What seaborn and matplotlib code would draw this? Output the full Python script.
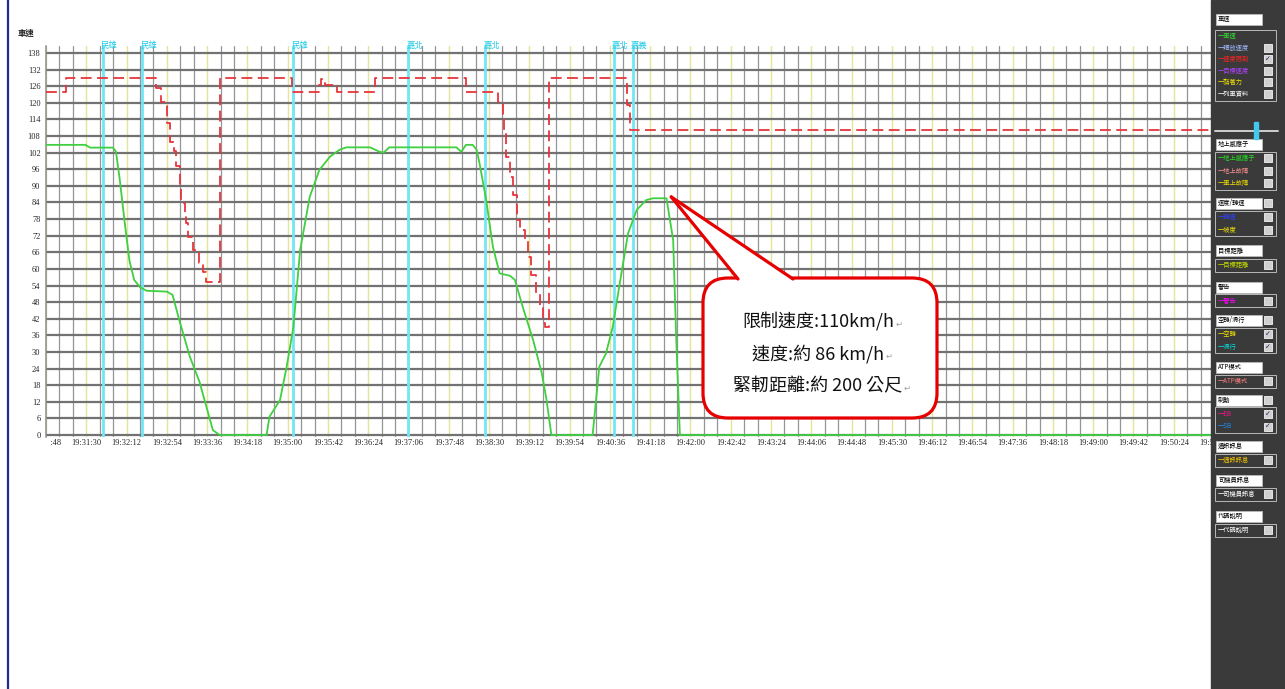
import numpy as np
import pandas as pd
import matplotlib
matplotlib.use("Agg")
import matplotlib.pyplot as plt
import matplotlib.transforms as mtransforms
from matplotlib.patches import Rectangle, FancyBboxPatch, Polygon
from matplotlib.lines import Line2D
from matplotlib.text import Annotation
import seaborn as sns

sns.set_theme(style="white")
plt.rcParams['font.family'] = ['Noto Sans CJK TC', 'DejaVu Sans']

# time axis: seconds after 19:30:00
speed_t = [48, 89, 94, 118, 121, 125, 130, 135, 140, 146, 153, 174, 180, 187, 198, 208,
           222, 229, 278, 281, 292, 299, 306, 313, 323, 333, 344, 354, 361, 386, 396, 400,
           406, 476, 481, 486, 493, 497, 500, 507, 514, 521, 532, 537, 545, 556, 565, 570,
           575, 618, 625, 632, 639, 648, 655, 664, 674, 681, 695, 702, 705, 709, 1340]
speed_v = [104.8, 104.8, 103.8, 103.8, 102.3, 92, 77, 63, 56, 53.4, 52.1, 51.8, 50.6, 41.5, 28.3, 19.3,
           1.8, 0, 0, 6.6, 12.6, 24.7, 39.1, 66.8, 86, 95.7, 100.5, 103, 103.9, 103.9, 102.3, 102,
           103.9, 103.9, 102.3, 104.8, 104.8, 103, 98.3, 84.9, 68, 58.4, 57.5, 56, 46.4, 34.3, 22.3, 12.6,
           0, 0, 24.7, 29.5, 39.1, 58.4, 72.9, 81.3, 84.9, 85.5, 85.5, 70.4, 36.7, 0, 0]

limit_t = [48, 69, 163, 168, 174, 177, 181, 184, 188, 189, 193, 194, 196, 201, 208, 212, 215,
           229, 305, 333, 335, 339, 351, 391, 486, 519, 525, 526, 528, 532, 535, 539, 542,
           547, 551, 554, 559, 563, 566, 568, 573, 654, 657, 1340]
limit_v = [124, 129, 125.2, 120.4, 112.6, 106, 102.4, 97, 90.3, 83.7, 78.9, 76.5, 71.6, 66.8, 62, 59, 55.4,
           129, 124, 126.4, 128.5, 126.4, 124, 129, 124, 120.4, 115, 109, 100.5, 93.3, 86.7, 77.7, 74.1,
           70.4, 64.4, 57.8, 51.2, 46.4, 40.4, 39.1, 129, 119.2, 110, 110]

station_t = [107, 148, 306, 426, 506, 640, 660]
station_names = ['民雄', '民雄', '民雄', '嘉北', '嘉北', '嘉北', '嘉義']

y_ticks = list(range(0, 139, 6))
t_start, t_end = 48, 1340

callout_lines = ['限制速度:110km/h', '速度:約 86 km/h', '緊軔距離:約 200 公尺']
callout_anchor = (700, 86)

W, H = 1285, 689
fig = plt.figure(figsize=(W / 100, H / 100), dpi=100)


def px(x, y):
    return x / W, 1 - y / H


def inch(x, y):
    return x / 100, (H - y) / 100


ax = fig.add_axes([46 / W, 1 - 436.7 / H, (W - 46) / W, (436.7 - 46) / H])

speed = pd.DataFrame({'t': speed_t, 'v': speed_v})
limit = pd.DataFrame({'t': limit_t, 'v': limit_v})
sns.lineplot(data=speed, x='t', y='v', ax=ax, color='#3fcf3f', lw=1.3,
             estimator=None, sort=False, zorder=4)
sns.lineplot(data=limit, x='t', y='v', ax=ax, color='#e8343c', lw=1.3,
             linestyle=(0, (6, 3)), drawstyle='steps-post', estimator=None, sort=False, zorder=4)

for t, name in zip(station_t, station_names):
    ax.axvline(t, color='#72e6f4', lw=2, zorder=3)
    ax.text(t - 2, 1.002, name, transform=ax.get_xaxis_transform(), color='#22cce6',
            fontsize=6, ha='left', va='center', clip_on=False)

ax.set_xlim(t_start, t_end)
ax.set_ylim(-0.6, 140.5)
major = list(range(t_start, t_end + 1, 42))
minor = [t for t in range(t_start, t_end + 1, 14) if (t - t_start) % 42]
ax.set_xticks(major)
ax.set_xticks(minor, minor=True)
ax.set_xticklabels([f"19:{30 + t // 60:02d}:{t % 60:02d}" for t in major])
ax.set_yticks(y_ticks)
ax.set_xlabel('')
ax.set_ylabel('')
ax.grid(False)
ax.grid(True, which='major', axis='x', color='#e4e49a', lw=1.0)
ax.grid(True, which='minor', axis='x', color='#959595', lw=0.9)
ax.grid(True, which='major', axis='y', color='#727272', lw=1.6)
ax.set_axisbelow(True)
ax.tick_params(which='both', length=0)
ax.tick_params(axis='x', labelsize=6, pad=1.5)
ax.tick_params(axis='y', labelsize=6, pad=4)
for s in ['top', 'right', 'bottom']:
    ax.spines[s].set_visible(False)
ax.spines['left'].set_color('#8c8c8c')
ax.spines['left'].set_linewidth(1.1)

# tick labels are cut at the plot's left edge and at the panel on the right
panel_x = 1211
clip_right = (panel_x - 46) / (W - 46)
clip = mtransforms.TransformedBbox(mtransforms.Bbox.from_extents(0.0035, -0.2, clip_right, 0), ax.transAxes)
for lbl in ax.get_xticklabels():
    lbl.set_fontfamily('Liberation Serif')
    lbl.set_clip_box(clip)
    lbl.set_clip_on(True)
for lbl in ax.get_yticklabels():
    lbl.set_fontfamily('Liberation Serif')

fig.text(*px(18, 33), '車速', fontsize=6, fontweight='bold', ha='left', va='center')
fig.add_artist(Line2D([7.5 / W] * 2, [0, 1], color='#1c2d8c', lw=1.6, transform=fig.transFigure))

# callout box
bx0, by0, bx1, by1 = 703, 278, 937, 418
box = FancyBboxPatch(inch(bx0, by1), (bx1 - bx0) / 100, (by1 - by0) / 100,
                     boxstyle='round,pad=0,rounding_size=0.25', transform=fig.dpi_scale_trans,
                     facecolor='white', edgecolor='#e60000', lw=2.3, zorder=20)
fig.add_artist(box)
tip = ax.transData.transform(callout_anchor) / fig.dpi
base_l, base_r = inch(738, 279), inch(793, 279)
ext_l = tip + (np.array(base_l) - tip) * 1.15
ext_r = tip + (np.array(base_r) - tip) * 1.15
fig.add_artist(Polygon([tip, ext_l, ext_r], closed=True, facecolor='white', edgecolor='none',
                       transform=fig.dpi_scale_trans, zorder=21))
for b in (base_l, base_r):
    fig.add_artist(Line2D([tip[0], b[0]], [tip[1], b[1]], color='#e60000', lw=2.3,
                          solid_capstyle='round', transform=fig.dpi_scale_trans, zorder=22))
for line, y in zip(callout_lines, [322, 354, 386]):
    txt = fig.text(*px(818, y), line, fontsize=13, ha='center', va='center', color='#111111', zorder=23)
    fig.add_artist(Annotation('↵', xy=(1, 0.15), xycoords=txt, xytext=(1, 0), textcoords='offset points',
                              fontsize=6, color='#a0a0a0', ha='left', va='bottom', zorder=23,
                              family=['DejaVu Sans']))

# right-hand control panel
fig.add_artist(Rectangle((panel_x / W, 0), 1 - panel_x / W, 1, transform=fig.transFigure,
                         color='#3a3a3a', zorder=30))

panel_groups = [
    ('車速', 19, False, [('車速', '#33dd33', None), ('釋放速度', '#a0b8ff', ''), ('速度限制', '#ff2020', '✓'),
                         ('目標速度', '#b040ff', ''), ('黏著力', '#f0e000', ''), ('列車資料', '#ffffff', '')]),
    ('地上感應子', 144, False, [('地上感應子', '#22dd22', ''), ('地上故障', '#ff9090', ''), ('車上故障', '#f0e000', '')]),
    ('速度/轉速', 203, True, [('轉速', '#3040ff', ''), ('坡度', '#f0e000', '')]),
    ('目標距離', 251, False, [('目標距離', '#c8e000', '')]),
    ('警告', 287, False, [('警告', '#ff00ff', '')]),
    ('空轉/滑行', 320, True, [('空轉', '#f0e000', '✓'), ('滑行', '#00e0e0', '✓')]),
    ('ATP模式', 367, False, [('ATP模式', '#ff8080', '')]),
    ('制動', 400, True, [('EB', '#ff1493', '✓'), ('SB', '#1e90ff', '✓')]),
    ('通訊訊息', 446, False, [('通訊訊息', '#f0c000', '')]),
    ('司機員訊息', 480, False, [('司機員訊息', '#ffffff', '')]),
    ('代碼說明', 516, False, [('代碼說明', '#ffffff', '')]),
]


def checkbox(y, mark):
    fig.add_artist(Rectangle(px(1264, y + 4), 8 / W, 8 / H, transform=fig.transFigure,
                             facecolor='#d0d0d0', edgecolor='#f4f4f4', lw=0.6, zorder=31))
    if mark:
        fig.text(*px(1268, y), mark, fontsize=5, color='#202060', ha='center', va='center',
                 zorder=32, family=['DejaVu Sans'])


for title, hy, hcheck, items in panel_groups:
    fig.add_artist(Rectangle(px(1216, hy + 5.5), 46 / W, 11 / H, transform=fig.transFigure,
                             facecolor='white', edgecolor='#bbbbbb', lw=0.6, zorder=31))
    fig.text(*px(1218, hy), title, fontsize=4.5, color='black', ha='left', va='center', zorder=32)
    if hcheck:
        checkbox(hy, '')
    step = 11.6 if len(items) > 3 else 12.5
    first = hy + (17 if len(items) > 3 else 14)
    ys = [first + i * step for i in range(len(items))]
    top, bottom = ys[0] - 6.5, ys[-1] + 6.5
    fig.add_artist(Rectangle(px(1215, bottom), 61 / W, (bottom - top) / H, transform=fig.transFigure,
                             facecolor='none', edgecolor='#b8b8b8', lw=0.7, zorder=31))
    for (name, col, mark), y in zip(items, ys):
        fig.text(*px(1218, y), '一' + name, fontsize=4.5, color=col, ha='left', va='center', zorder=32)
        if mark is not None:
            checkbox(y, mark)

fig.add_artist(Line2D([1215 / W, 1278 / W], [1 - 131 / H] * 2, color='#cfcfcf', lw=1.4,
                      transform=fig.transFigure, zorder=31))
fig.add_artist(Rectangle(px(1254, 139), 4 / W, 17 / H, transform=fig.transFigure,
                         color='#45c8f0', zorder=32))

fig.savefig('out.png', dpi=100)
